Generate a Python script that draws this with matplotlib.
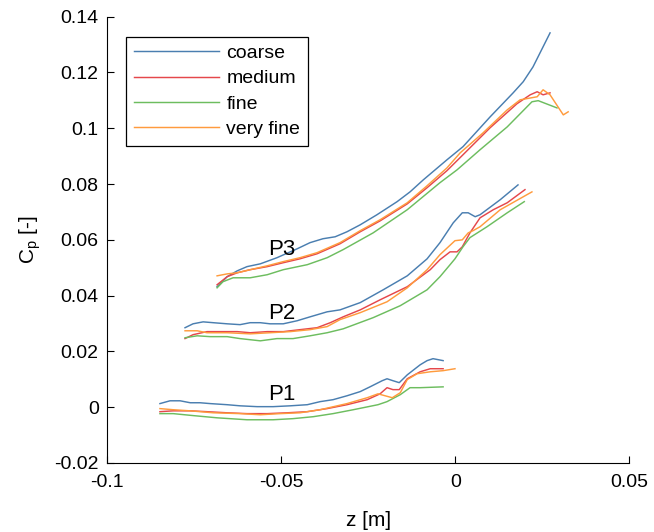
import matplotlib
matplotlib.use("Agg")
import matplotlib.pyplot as plt
from matplotlib.ticker import FuncFormatter

plt.rcParams['font.family'] = ['Liberation Sans', 'DejaVu Sans']
plt.rcParams['mathtext.default'] = 'regular'
plt.rcParams['axes.unicode_minus'] = False

# pressure coefficient along z for three probe lines, four mesh resolutions
# --- P3 ---
p3_coarse_z = [-0.0684, -0.0655, -0.0626, -0.0598, -0.0560, -0.0512, -0.0454, -0.0417, -0.0380, -0.0345, -0.0311,
               -0.0273, -0.0225, -0.0167, -0.0130, -0.0092, -0.0024, 0.0022, 0.0100, 0.0166, 0.0195, 0.0223, 0.0272]
p3_coarse_cp = [0.0432, 0.0468, 0.0489, 0.0504, 0.0514, 0.0536, 0.0568, 0.0590, 0.0604, 0.0611, 0.0629,
                0.0654, 0.0690, 0.0737, 0.0772, 0.0815, 0.0887, 0.0934, 0.1041, 0.1127, 0.1167, 0.1220, 0.1342]
p3_medium_z = [-0.0684, -0.0655, -0.0626, -0.0589, -0.0540, -0.0494, -0.0446, -0.0397, -0.0331, -0.0273, -0.0216,
               -0.0138, -0.0081, -0.0024, 0.0022, 0.0100, 0.0177, 0.0215, 0.0235, 0.0252, 0.0272]
p3_medium_cp = [0.0439, 0.0468, 0.0482, 0.0493, 0.0504, 0.0518, 0.0532, 0.0550, 0.0586, 0.0629, 0.0668,
                0.0729, 0.0787, 0.0848, 0.0905, 0.1002, 0.1088, 0.1120, 0.1131, 0.1120, 0.1127]
p3_fine_z = [-0.0684, -0.0667, -0.0638, -0.0589, -0.0540, -0.0494, -0.0425, -0.0368, -0.0322, -0.0236, -0.0138,
             -0.0044, 0.0005, 0.0071, 0.0149, 0.0220, 0.0238, 0.0292]
p3_fine_cp = [0.0428, 0.0450, 0.0464, 0.0464, 0.0475, 0.0493, 0.0511, 0.0536, 0.0565, 0.0625, 0.0708,
              0.0805, 0.0851, 0.0923, 0.1005, 0.1095, 0.1099, 0.1073]
p3_vfine_z = [-0.0684, -0.0655, -0.0626, -0.0589, -0.0540, -0.0494, -0.0446, -0.0397, -0.0331, -0.0273, -0.0216,
              -0.0138, -0.0081, -0.0024, 0.0014, 0.0080, 0.0149, 0.0186, 0.0235, 0.0252, 0.0272, 0.0310, 0.0324]
p3_vfine_cp = [0.0471, 0.0478, 0.0482, 0.0493, 0.0507, 0.0522, 0.0536, 0.0554, 0.0590, 0.0633, 0.0672,
               0.0733, 0.0794, 0.0858, 0.0912, 0.0984, 0.1066, 0.1102, 0.1113, 0.1138, 0.1120, 0.1048, 0.1059]

# --- P2 ---
p2_coarse_z = [-0.0776, -0.0753, -0.0724, -0.0695, -0.0655, -0.0618, -0.0589, -0.0560, -0.0532, -0.0494, -0.0454,
               -0.0417, -0.0368, -0.0331, -0.0273, -0.0207, -0.0138, -0.0081, -0.0044, -0.0006, 0.0020, 0.0037,
               0.0057, 0.0071, 0.0129, 0.0180]
p2_coarse_cp = [0.0285, 0.0299, 0.0306, 0.0303, 0.0299, 0.0296, 0.0303, 0.0303, 0.0299, 0.0299, 0.0310,
                0.0324, 0.0342, 0.0349, 0.0375, 0.0421, 0.0471, 0.0532, 0.0590, 0.0661, 0.0697, 0.0697,
                0.0683, 0.0690, 0.0744, 0.0797]
p2_medium_z = [-0.0776, -0.0753, -0.0713, -0.0667, -0.0626, -0.0589, -0.0540, -0.0494, -0.0446, -0.0397, -0.0359,
               -0.0322, -0.0273, -0.0216, -0.0138, -0.0072, -0.0044, -0.0015, 0.0005, 0.0020, 0.0042, 0.0071,
               0.0109, 0.0149, 0.0200]
p2_medium_cp = [0.0246, 0.0260, 0.0271, 0.0271, 0.0271, 0.0267, 0.0271, 0.0271, 0.0278, 0.0285, 0.0303,
                0.0324, 0.0349, 0.0385, 0.0432, 0.0493, 0.0529, 0.0557, 0.0557, 0.0575, 0.0625, 0.0679,
                0.0708, 0.0733, 0.0780]
p2_fine_z = [-0.0776, -0.0741, -0.0704, -0.0655, -0.0618, -0.0560, -0.0512, -0.0466, -0.0417, -0.0368, -0.0322,
             -0.0236, -0.0158, -0.0081, -0.0044, -0.0015, -0.0001, 0.0022, 0.0042, 0.0091, 0.0149, 0.0198]
p2_fine_cp = [0.0249, 0.0256, 0.0253, 0.0253, 0.0246, 0.0238, 0.0246, 0.0246, 0.0256, 0.0267, 0.0281,
              0.0321, 0.0364, 0.0421, 0.0468, 0.0511, 0.0532, 0.0575, 0.0608, 0.0647, 0.0697, 0.0737]
p2_vfine_z = [-0.0776, -0.0741, -0.0713, -0.0655, -0.0589, -0.0532, -0.0474, -0.0417, -0.0368, -0.0331, -0.0273,
              -0.0196, -0.0138, -0.0081, -0.0044, -0.0001, 0.0020, 0.0037, 0.0051, 0.0071, 0.0129, 0.0220]
p2_vfine_cp = [0.0274, 0.0274, 0.0267, 0.0267, 0.0263, 0.0267, 0.0271, 0.0278, 0.0289, 0.0314, 0.0339,
               0.0378, 0.0428, 0.0493, 0.0547, 0.0597, 0.0600, 0.0625, 0.0633, 0.0647, 0.0708, 0.0772]

# --- P1 ---
p1_coarse_z = [-0.0848, -0.0819, -0.0790, -0.0761, -0.0733, -0.0704, -0.0655, -0.0618, -0.0569, -0.0523, -0.0474,
               -0.0425, -0.0388, -0.0351, -0.0311, -0.0273, -0.0245, -0.0210, -0.0196, -0.0179, -0.0161, -0.0138,
               -0.0101, -0.0081, -0.0064, -0.0035]
p1_coarse_cp = [0.0013, 0.0023, 0.0023, 0.0016, 0.0016, 0.0013, 0.0009, 0.0005, 0.0002, 0.0002, 0.0005,
                0.0009, 0.0020, 0.0027, 0.0041, 0.0056, 0.0073, 0.0095, 0.0102, 0.0095, 0.0088, 0.0116,
                0.0152, 0.0167, 0.0174, 0.0167]
p1_medium_z = [-0.0848, -0.0810, -0.0761, -0.0713, -0.0655, -0.0598, -0.0540, -0.0483, -0.0425, -0.0368, -0.0311,
               -0.0253, -0.0216, -0.0196, -0.0179, -0.0161, -0.0138, -0.0101, -0.0072, -0.0035]
p1_medium_cp = [-0.0016, -0.0013, -0.0013, -0.0016, -0.0020, -0.0023, -0.0023, -0.0020, -0.0016, -0.0005, 0.0009,
                0.0027, 0.0048, 0.0070, 0.0063, 0.0063, 0.0102, 0.0127, 0.0138, 0.0138]
p1_fine_z = [-0.0848, -0.0810, -0.0753, -0.0684, -0.0598, -0.0523, -0.0466, -0.0408, -0.0351, -0.0293, -0.0222,
             -0.0196, -0.0158, -0.0130, -0.0101, -0.0035]
p1_fine_cp = [-0.0023, -0.0023, -0.0030, -0.0038, -0.0045, -0.0045, -0.0041, -0.0034, -0.0023, -0.0009, 0.0009,
              0.0020, 0.0045, 0.0070, 0.0070, 0.0073]
p1_vfine_z = [-0.0848, -0.0810, -0.0761, -0.0695, -0.0618, -0.0560, -0.0503, -0.0446, -0.0388, -0.0311, -0.0253,
              -0.0222, -0.0181, -0.0158, -0.0138, -0.0110, -0.0072, -0.0035, -0.0001]
p1_vfine_cp = [-0.0005, -0.0009, -0.0013, -0.0020, -0.0023, -0.0027, -0.0023, -0.0020, -0.0009, 0.0013, 0.0034,
               0.0048, 0.0034, 0.0052, 0.0099, 0.0120, 0.0127, 0.0131, 0.0138]

mesh_names = ['coarse', 'medium', 'fine', 'very fine']
mesh_colors = ['#4a7eb0', '#e5474b', '#6dbd5f', '#ff9b3d']

probe_names = ['P1', 'P2', 'P3']
probe_label_z = [-0.0497, -0.0497, -0.0497]
probe_label_cp = [0.0045, 0.0335, 0.0565]

x_ticks = [-0.1, -0.05, 0, 0.05]
y_ticks = [-0.02, 0, 0.02, 0.04, 0.06, 0.08, 0.1, 0.12, 0.14]

probes = [
    [(p1_coarse_z, p1_coarse_cp), (p1_medium_z, p1_medium_cp), (p1_fine_z, p1_fine_cp), (p1_vfine_z, p1_vfine_cp)],
    [(p2_coarse_z, p2_coarse_cp), (p2_medium_z, p2_medium_cp), (p2_fine_z, p2_fine_cp), (p2_vfine_z, p2_vfine_cp)],
    [(p3_coarse_z, p3_coarse_cp), (p3_medium_z, p3_medium_cp), (p3_fine_z, p3_fine_cp), (p3_vfine_z, p3_vfine_cp)],
]

fig = plt.figure(figsize=(6.54, 5.32), dpi=100)
ax = fig.add_axes([0.1636, 0.1297, 0.7989, 0.8389])

for p, series in enumerate(probes):
    for m, (z, cp) in enumerate(series):
        ax.plot(z, cp, color=mesh_colors[m], lw=1.05,
                label=mesh_names[m] if p == 2 else None)

for name, tz, tc in zip(probe_names, probe_label_z, probe_label_cp):
    ax.text(tz, tc, name, fontsize=16, ha='center', va='center')

ax.set_xlim(-0.1, 0.05)
ax.set_ylim(-0.02, 0.14)
ax.set_xticks(x_ticks)
ax.set_yticks(y_ticks)
fmt = FuncFormatter(lambda v, pos: '%g' % round(v, 4))
ax.xaxis.set_major_formatter(fmt)
ax.yaxis.set_major_formatter(fmt)
ax.tick_params(direction='in', length=5, width=0.8, labelsize=14, pad=6)
ax.tick_params(axis='x', pad=8)
ax.spines['top'].set_visible(False)
ax.spines['right'].set_visible(False)
for s in ('left', 'bottom'):
    ax.spines[s].set_linewidth(0.8)

ax.set_xlabel('z [m]', fontsize=15, labelpad=14)
ax.set_ylabel('C$_p$ [-]', fontsize=15, labelpad=8)

leg = ax.legend(loc='upper left', bbox_to_anchor=(0.0364, 0.955), borderaxespad=0,
                fontsize=14, handlelength=4.4, handletextpad=0.36, borderpad=0.4,
                labelspacing=0.39, fancybox=False, edgecolor='black', framealpha=1)
leg.get_frame().set_linewidth(0.9)

fig.savefig('out.png', dpi=100)
